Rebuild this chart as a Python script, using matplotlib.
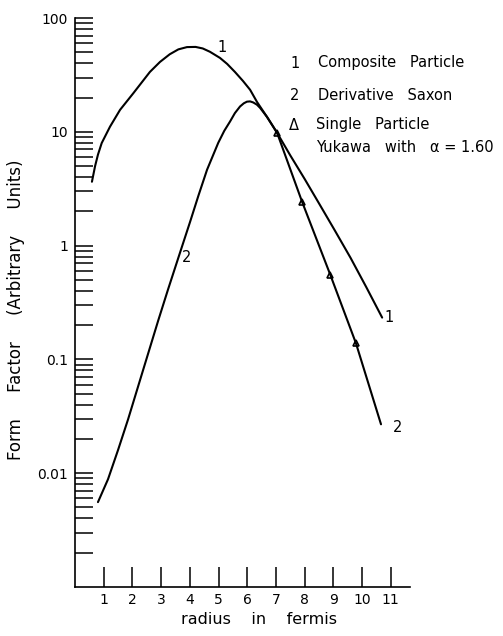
import numpy as np
import matplotlib
matplotlib.use("Agg")
import matplotlib.pyplot as plt

# ---- data ----
composite_x = [0.59, 0.70, 0.80, 0.93, 1.22, 1.57, 2.03, 2.61, 2.96, 3.30, 3.60, 3.90, 4.20, 4.45, 4.70, 5.05, 5.30, 5.57, 5.85, 6.10, 6.34, 6.69, 7.04, 7.50, 8.00, 8.50, 9.05, 9.60, 10.15, 10.70]
composite_y = [3.64, 5.0, 6.3, 7.96, 11.1, 15.6, 21.8, 33.6, 41.1, 48.0, 53.0, 55.5, 55.7, 54.0, 50.5, 44.6, 39.5, 33.6, 28.0, 23.4, 18.3, 13.5, 9.8, 6.2, 3.85, 2.35, 1.36, 0.78, 0.43, 0.233]

saxon_x = [0.80, 1.15, 1.50, 1.85, 2.40, 2.90, 3.24, 3.66, 4.01, 4.30, 4.60, 4.99, 5.20, 5.40, 5.57, 5.75, 5.88, 5.99, 6.10, 6.21, 6.34, 6.45, 6.69, 7.04, 7.91, 8.89, 9.79, 10.66]
saxon_y = [0.00557, 0.00885, 0.0160, 0.0298, 0.085, 0.22, 0.411, 0.87, 1.62, 2.75, 4.64, 8.0, 10.2, 12.3, 14.6, 16.7, 17.8, 18.4, 18.5, 18.1, 17.3, 16.2, 13.5, 9.8, 2.43, 0.557, 0.138, 0.0269]

yukawa_x = [7.04, 7.91, 8.89, 9.79]
yukawa_y = [9.8, 2.43, 0.557, 0.138]

x_ticks = [1, 2, 3, 4, 5, 6, 7, 8, 9, 10, 11]
x_ticklabels = ["1", "2", "3", "4", "5", "6", "7", "8", "9", "10", "11"]
y_ticks = [0.01, 0.1, 1, 10, 100]
y_ticklabels = ["0.01", "0.1", "1", "10", "100"]

W, H = 503, 636
fig = plt.figure(figsize=(W / 100, H / 100), dpi=100)
ax = fig.add_axes([75 / W, 1 - 587 / H, (410 - 75) / W, (587 - 18) / H])

ax.set_yscale("log")
ax.set_ylim(1e-3, 100)
ax.set_xlim(0, 11.67)

ax.plot(composite_x, composite_y, color="black", lw=1.5, solid_capstyle="round",
        solid_joinstyle="round")
ax.plot(saxon_x, saxon_y, color="black", lw=1.5, solid_capstyle="round",
        solid_joinstyle="round")
ax.plot(yukawa_x, yukawa_y, linestyle="none", marker="^", ms=5,
        markerfacecolor="none", markeredgecolor="black", markeredgewidth=1.2)

for s in ["top", "right"]:
    ax.spines[s].set_visible(False)
for s in ["left", "bottom"]:
    ax.spines[s].set_linewidth(1.2)

ax.set_xticks(x_ticks)
ax.set_xticklabels(x_ticklabels)
ax.set_yticks(y_ticks)
ax.set_yticklabels(y_ticklabels)
ax.yaxis.set_minor_locator(matplotlib.ticker.LogLocator(base=10, subs=np.arange(2, 10)))
ax.yaxis.set_minor_formatter(matplotlib.ticker.NullFormatter())
ax.tick_params(axis="y", which="both", direction="in", length=13, width=1.1,
               pad=5, labelsize=10)
ax.tick_params(axis="x", which="major", direction="in", length=14.5, width=1.1,
               pad=4, labelsize=10)
ax.tick_params(axis="x", which="minor", length=0)

fs = 10.5
def ft(x, y, s, **kw):
    fig.text(x / W, 1 - y / H, s, va="center", ha=kw.pop("ha", "left"),
             fontsize=kw.pop("fontsize", fs), **kw)

# curve labels
ft(222, 48, "1", ha="center")
ft(389, 318, "1", ha="center")
ft(187, 258, "2", ha="center")
ft(398, 428, "2", ha="center")

# legend text
ft(295, 63, "1", ha="center")
ft(318, 63, "Composite   Particle")
ft(295, 95, "2", ha="center")
ft(318, 95, "Derivative   Saxon")
ft(294, 125, "Δ", ha="center")
ft(316, 125, "Single   Particle")
ft(316, 147, "Yukawa   with   α = 1.60")

# axis labels
fig.text(16 / W, 1 - 310 / H, "Form     Factor     (Arbitrary     Units)", rotation=90,
         va="center", ha="center", fontsize=12)
fig.text(259 / W, 1 - 620 / H, "radius    in    fermis", va="center", ha="center",
         fontsize=11.5)

fig.savefig("out.png", dpi=100)
